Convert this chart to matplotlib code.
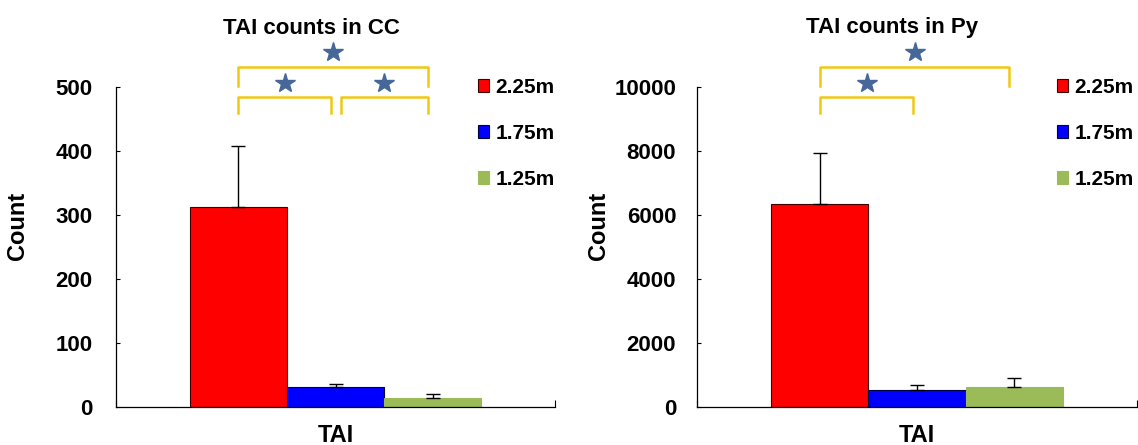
import matplotlib
matplotlib.use("Agg")
import matplotlib.pyplot as plt
from matplotlib.patches import Patch

plt.rcParams['font.family'] = ['Liberation Sans', 'DejaVu Sans']
plt.rcParams['font.weight'] = 'bold'

groups = ["2.25m", "1.75m", "1.25m"]
colors = ["#ff0000", "#0000ff", "#9bbb59"]
edgecolors = ["#400000", "#000040", "#9bbb59"]
category = ["TAI"]

cc_means = [313, 31, 14]
cc_err = [95, 5, 6]
py_means = [6350, 540, 640]
py_err = [1600, 140, 260]

titles = ["TAI counts in CC", "TAI counts in Py"]
yticks_cc = [0, 100, 200, 300, 400, 500]
yticks_py = [0, 2000, 4000, 6000, 8000, 10000]

# significance brackets: (group_i, group_j, level)
cc_sig = [(0, 2, 1), (0, 1, 0), (1, 2, 0)]
py_sig = [(0, 2, 1), (0, 1, 0)]

W, H = 1138, 445
fig = plt.figure(figsize=(W / 100, H / 100), dpi=100)

panels = [
    dict(rect=(116 / W, 1 - 407 / H, 439 / W, 320 / H), means=cc_means, err=cc_err,
         yticks=yticks_cc, ymax=500, title=titles[0], sig=cc_sig, title_x=311 / W,
         leg_x=478 / W, pad=17),
    dict(rect=(697 / W, 1 - 407 / H, 440 / W, 320 / H), means=py_means, err=py_err,
         yticks=yticks_py, ymax=10000, title=titles[1], sig=py_sig, title_x=892 / W,
         leg_x=1057 / W, pad=15),
]

bw = 0.221
centers = [0.5 - bw, 0.5, 0.5 + bw]
bracket_col = "#f0c814"
star_col = "#46679a"

for p in panels:
    ax = fig.add_axes(p["rect"])
    ymax = p["ymax"]
    for i, g in enumerate(groups):
        ax.bar(centers[i], p["means"][i], width=bw, color=colors[i],
               edgecolor=edgecolors[i], linewidth=0.8, label=g, zorder=2)
        ax.errorbar(centers[i], p["means"][i], yerr=[[0], [p["err"][i]]],
                    fmt="none", ecolor="black", elinewidth=1, capsize=5,
                    capthick=1, zorder=3)
    ax.set_xlim(0, 1)
    ax.set_ylim(0, ymax)
    ax.set_yticks(p["yticks"])
    ax.set_yticklabels([str(v) for v in p["yticks"]], fontsize=16, fontweight='bold')
    ax.tick_params(axis='y', direction='in', length=3, width=0.8, pad=p["pad"])
    ax.set_xticks([0.5])
    ax.set_xticklabels(category, fontsize=17, fontweight='bold')
    ax.tick_params(axis='x', length=0, pad=12)
    ax.set_xticks([0, 1], minor=True)
    ax.tick_params(axis='x', which='minor', direction='in', length=5, width=0.8)
    for s in ["top", "right"]:
        ax.spines[s].set_visible(False)
    for s in ["left", "bottom"]:
        ax.spines[s].set_linewidth(0.9)
    ax.set_ylabel("Count", fontsize=17, fontweight='bold')
    ax.yaxis.set_label_coords(-0.198, 0.566)
    fig.text(p["title_x"], 1 - 28 / H, p["title"], ha="center", va="center",
             fontsize=16, fontweight='bold')

    # significance brackets
    for (i, j, lvl) in p["sig"]:
        x0 = centers[i]
        x1 = centers[j]
        if lvl == 0:
            if i == 0 and j == 1 and len(p["sig"]) == 3:
                x1 = centers[j] - 0.01
            if i == 1:
                x0 = centers[i] + 0.013
                x1 = centers[j] - 0.011
            ytop = ymax * 0.969
            ybot = ymax * 0.92
            if i == 0 and len(p["sig"]) == 2:
                x1 = centers[j] - 0.008
        else:
            x1 = centers[j] - 0.011
            ytop = ymax * 1.063
            ybot = ymax * 1.003
        ax.plot([x0, x0, x1, x1], [ybot, ytop, ytop, ybot], color=bracket_col,
                lw=1.8, clip_on=False, solid_joinstyle='round', zorder=4)
        ax.plot([(x0 + x1) / 2], [ytop + ymax * 0.045],
                marker="*", markersize=15, color=star_col, clip_on=False,
                linestyle="none", zorder=4)

    handles = [Patch(facecolor=colors[k], edgecolor=edgecolors[k], linewidth=0.8)
               for k in range(3)]
    fig.legend(handles, groups, loc="upper left",
               bbox_to_anchor=(p["leg_x"], 1 - 78 / H), frameon=False,
               fontsize=15, handlelength=0.55, handleheight=0.6,
               handletextpad=0.3, labelspacing=1.3, borderaxespad=0,
               borderpad=0)

fig.savefig("out.png", dpi=100)
